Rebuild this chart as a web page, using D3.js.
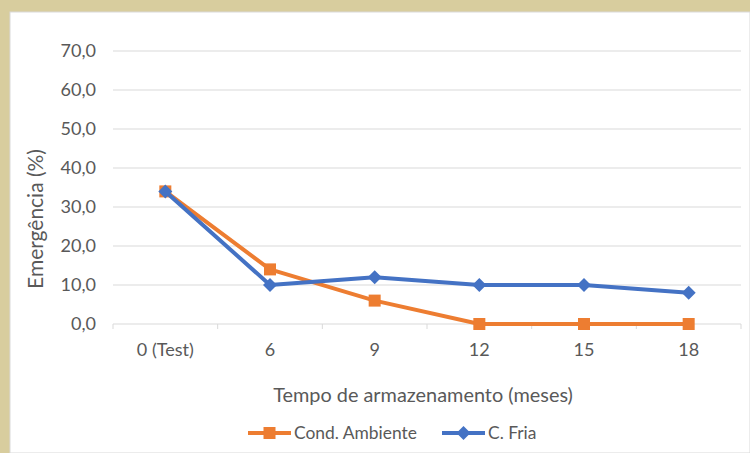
<!DOCTYPE html>
<html><head><meta charset="utf-8">
<script src="https://cdn.jsdelivr.net/npm/d3@7"></script>
<style>html,body{margin:0;padding:0;background:#fff;}svg{display:block;}</style>
</head><body>
<script>
const categories = ["0 (Test)", "6", "9", "12", "15", "18"];
const seriesNames = ["Cond. Ambiente", "C. Fria"];
const ambiente = [34, 14, 6, 0, 0, 0];
const fria = [34, 10, 12, 10, 10, 8];
const yTicks = [0, 10, 20, 30, 40, 50, 60, 70];
const xTitle = "Tempo de armazenamento (meses)";
const yTitle = "Emergência (%)";

const W = 750, H = 453;
const svg = d3.select("body").append("svg").attr("width", W).attr("height", H);
const font = "Lato, 'Open Sans', 'Liberation Sans', sans-serif";

function fit(str, target) {
  const t = svg.append("text").attr("font-family", font).attr("font-size", 20).text(str);
  const w = t.node().getComputedTextLength();
  t.remove();
  return 20 * target / w;
}
const tickSize = fit("0 (Test)", 57);
const titleSize = fit(xTitle, 300);
const yTitleSize = fit(yTitle, 140);
const legSize = fit(seriesNames[0], 123);

svg.append("rect").attr("width", W).attr("height", H).attr("fill", "#d8cd9e");
svg.append("rect").attr("x", 10).attr("y", 12).attr("width", W - 10).attr("height", H - 12)
  .attr("fill", "#fff").attr("stroke", "#d9d9d9").attr("stroke-width", 1);

const L = 113, R = 741, T = 51, B = 324;
const x = d3.scaleBand().domain(categories).range([L, R]);
const y = d3.scaleLinear().domain([0, 70]).range([B, T]);

const g = svg.append("g");
g.selectAll("line.grid").data(yTicks.filter(d => d > 0)).join("line")
  .attr("x1", L).attr("x2", R).attr("y1", d => y(d)).attr("y2", d => y(d))
  .attr("stroke", "#d9d9d9").attr("stroke-width", 1);
g.selectAll("text.yl").data(yTicks).join("text")
  .attr("x", 96).attr("y", d => y(d)).attr("dy", "0.35em").attr("text-anchor", "end")
  .attr("font-family", font).attr("font-size", tickSize).attr("fill", "#595959")
  .text(d => d3.format(".1f")(d).replace(".", ","));
const ax = g.append("g").attr("transform", `translate(0,${B})`);
ax.append("line").attr("x1", L).attr("x2", R).attr("stroke", "#d9d9d9");
const bounds = categories.map(c => x(c)).concat([R]);
ax.selectAll("line.tk").data(bounds).join("line")
  .attr("x1", d => d).attr("x2", d => d).attr("y1", 0).attr("y2", 5).attr("stroke", "#d9d9d9");
ax.selectAll("text.xl").data(categories).join("text")
  .attr("x", d => x(d) + x.bandwidth() / 2).attr("y", 26).attr("dy", "0.35em").attr("text-anchor", "middle")
  .attr("font-family", font).attr("font-size", tickSize).attr("fill", "#595959").text(d => d);

const cx = d => x(d) + x.bandwidth() / 2;
const line = d3.line().x((d, i) => cx(categories[i])).y(d => y(d));
const orange = "#ed7d31", blue = "#4472c4";
g.append("path").datum(ambiente).attr("d", line).attr("fill", "none")
  .attr("stroke", orange).attr("stroke-width", 4).attr("stroke-linejoin", "round");
g.selectAll("rect.sq").data(ambiente).join("rect")
  .attr("x", (d, i) => cx(categories[i]) - 6).attr("y", d => y(d) - 6)
  .attr("width", 12).attr("height", 12).attr("fill", orange);
g.append("path").datum(fria).attr("d", line).attr("fill", "none")
  .attr("stroke", blue).attr("stroke-width", 4).attr("stroke-linejoin", "round");
const diamond = s => `M0,${-s}L${s},0L0,${s}L${-s},0Z`;
g.selectAll("path.dm").data(fria).join("path")
  .attr("d", diamond(7)).attr("transform", (d, i) => `translate(${cx(categories[i])},${y(d)})`)
  .attr("fill", blue);

svg.append("text").attr("x", 423).attr("y", 395).attr("dy", "0.35em").attr("text-anchor", "middle")
  .attr("font-family", font).attr("font-size", titleSize).attr("fill", "#595959").text(xTitle);
svg.append("text").attr("transform", "translate(36,219) rotate(-90)").attr("dy", "0.35em").attr("text-anchor", "middle")
  .attr("font-family", font).attr("font-size", yTitleSize).attr("fill", "#595959").text(yTitle);

const leg = svg.append("g");
const items = [
  {name: seriesNames[0], color: orange, x1: 248, shape: "sq"},
  {name: seriesNames[1], color: blue, x1: 442, shape: "dm"}
];
items.forEach(it => {
  const ly = 433;
  leg.append("line").attr("x1", it.x1).attr("x2", it.x1 + 43).attr("y1", ly).attr("y2", ly)
    .attr("stroke", it.color).attr("stroke-width", 4);
  if (it.shape === "sq") leg.append("rect").attr("x", it.x1 + 15.5).attr("y", ly - 6).attr("width", 12).attr("height", 12).attr("fill", it.color);
  else leg.append("path").attr("d", diamond(7)).attr("transform", `translate(${it.x1 + 21.5},${ly})`).attr("fill", it.color);
  leg.append("text").attr("x", it.x1 + 46).attr("y", ly).attr("dy", "0.35em")
    .attr("font-family", font).attr("font-size", legSize).attr("fill", "#595959").text(it.name);
});
</script>
</body></html>
